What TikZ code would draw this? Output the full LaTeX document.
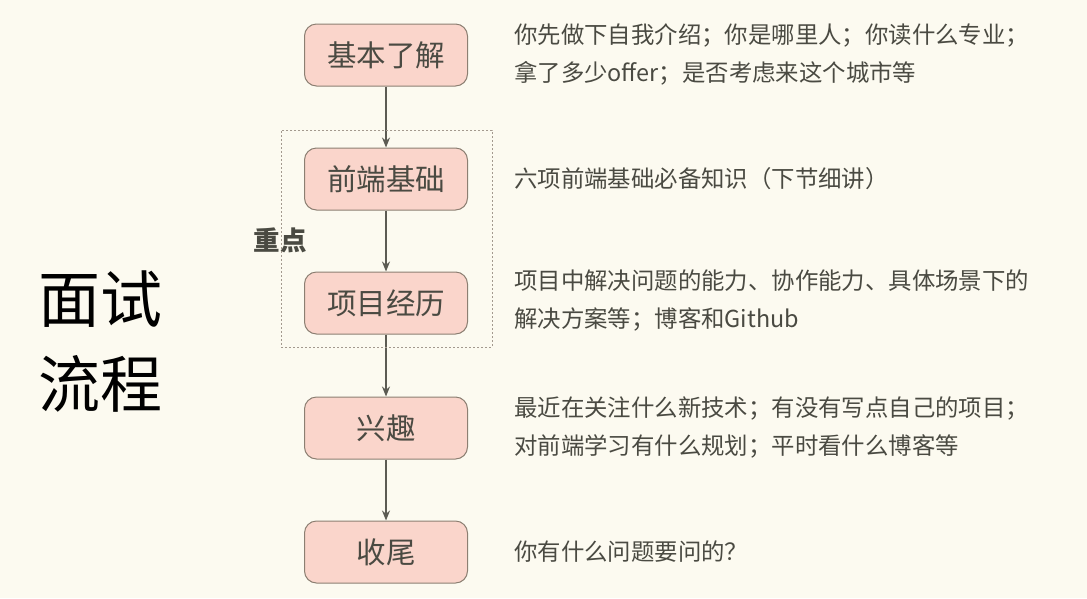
\documentclass[tikz,border=0pt]{standalone}
\usepackage{fontspec}
\setmainfont{Noto Sans CJK SC}
\usetikzlibrary{arrows.meta}
\definecolor{bg}{HTML}{FCFAF0}
\definecolor{boxfill}{HTML}{FAD5CB}
\definecolor{boxline}{HTML}{8C7F72}
\definecolor{txt}{HTML}{4A4A42}
\definecolor{arr}{HTML}{5C5B53}
\begin{document}
\begin{tikzpicture}[x=1pt,y=-1pt,
  stepbox/.style={draw=boxline,line width=1pt,fill=boxfill,rounded corners=12pt,minimum width=163pt,minimum height=62pt,inner sep=0pt,text=txt,font=\fontsize{29.5}{34}\selectfont},
  desc/.style={anchor=west,align=left,text=txt,inner sep=0pt,font=\fontsize{23.4}{38}\selectfont},
  flow/.style={draw=arr,line width=1.3pt,-{Stealth[length=10pt,width=8pt]}}]
\useasboundingbox[fill=bg] (0,0) rectangle (1087,598);
\node[stepbox] (s1) at (386,55) {基本了解};
\node[stepbox] (s2) at (386,179) {前端基础};
\node[stepbox] (s3) at (386,303) {项目经历};
\node[stepbox] (s4) at (386,428) {兴趣};
\node[stepbox] (s5) at (386,552) {收尾};
\draw[flow] (s1) -- (s2);
\draw[flow] (s2) -- (s3);
\draw[flow] (s3) -- (s4);
\draw[flow] (s4) -- (s5);
\node[draw=boxline!80,dash pattern=on 2pt off 2pt,line width=0.8pt,minimum width=211pt,minimum height=217pt,inner sep=0pt] (focus) at (386.5,238.5) {};
\node[text=txt,inner sep=0pt,font=\fontsize{26.5}{30}\selectfont\bfseries] (zd) at (280,240) {重点};
\node[text=black,inner sep=0pt,align=center,font=\fontsize{62}{85}\selectfont] (title) at (100,342) {面试\\流程};
\node[desc] (d1) at (514,54) {你先做下自我介绍；你是哪里人；你读什么专业；\\拿了多少offer；是否考虑来这个城市等};
\node[desc] (d2) at (514,179) {六项前端基础必备知识（下节细讲）};
\node[desc] (d3) at (514,301) {项目中解决问题的能力、协作能力、具体场景下的\\解决方案等；博客和Github};
\node[desc] (d4) at (514,427) {最近在关注什么新技术；有没有写点自己的项目；\\对前端学习有什么规划；平时看什么博客等};
\node[desc] (d5) at (514,552) {你有什么问题要问的？};
\end{tikzpicture}
\end{document}
